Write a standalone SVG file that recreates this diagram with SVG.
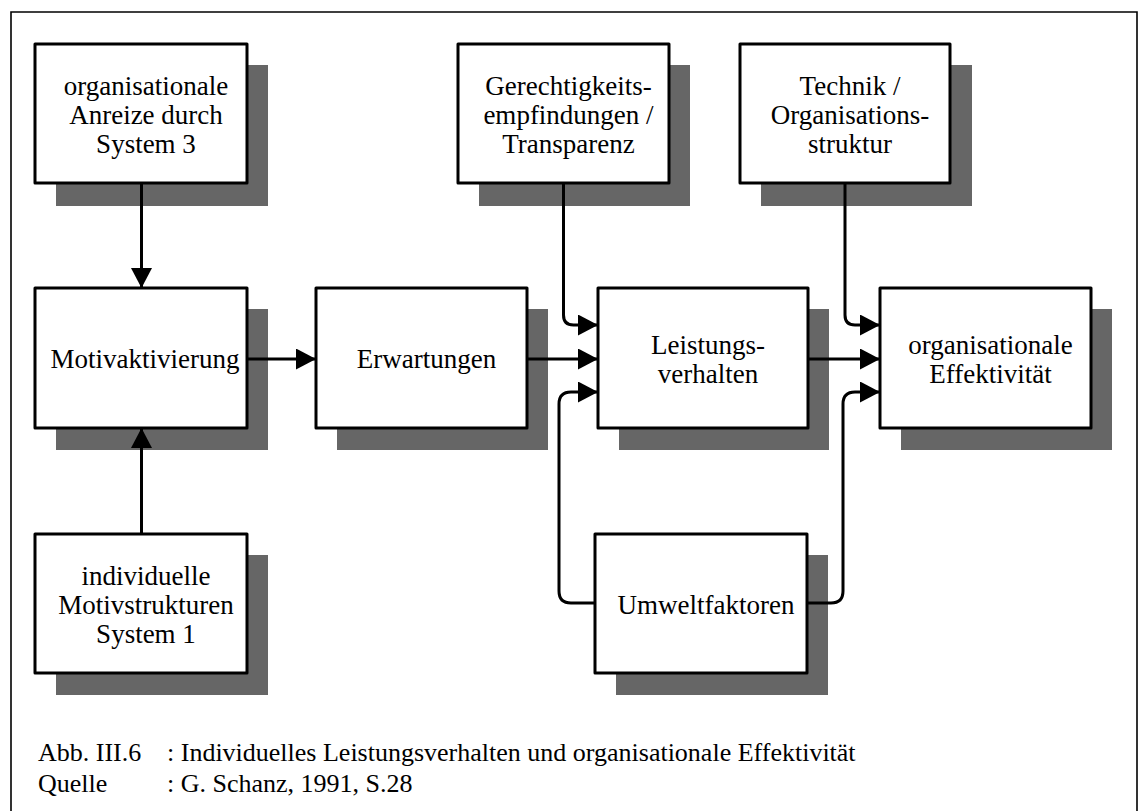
<svg xmlns="http://www.w3.org/2000/svg" width="1144" height="811" viewBox="0 0 1144 811">
  <style>
    .shadow { fill: #666666; }
    .box { fill: #ffffff; stroke: #000000; stroke-width: 3; stroke-linejoin: round; }
    .label { font-family: "Liberation Serif", "Times New Roman", serif; font-size: 27px; fill: #000000; text-anchor: middle; }
    .caption { font-family: "Liberation Serif", "Times New Roman", serif; font-size: 26px; fill: #000000; }
    .conn { fill: none; stroke: #000000; stroke-width: 3; stroke-linejoin: round; }
  </style>
  <defs>
    <marker id="arrow" markerUnits="userSpaceOnUse" markerWidth="21" markerHeight="22" refX="20" refY="10.5" orient="auto">
      <path d="M0,0 L20,10.5 L0,21 Z" fill="#000000"/>
    </marker>
  </defs>

  <rect width="1144" height="811" fill="#ffffff"/>
  <!-- outer frame, open at the bottom edge -->
  <path d="M11,811 L11,12 L1137,12 L1137,811" fill="none" stroke="#000000" stroke-width="1.6"/>

  <g id="node-anreize">
    <rect class="shadow" x="56" y="65" width="212" height="141"/>
    <rect class="box" x="35" y="44" width="212" height="139"/>
    <text class="label" x="146" y="94.5">organisationale</text>
    <text class="label" x="146" y="123.5">Anreize durch</text>
    <text class="label" x="146" y="152.5">System 3</text>
  </g>

  <g id="node-gerechtigkeit">
    <rect class="shadow" x="479" y="65" width="211" height="141"/>
    <rect class="box" x="458" y="44" width="211" height="139"/>
    <text class="label" x="568.5" y="94.5">Gerechtigkeits-</text>
    <text class="label" x="568.5" y="123.5">empfindungen /</text>
    <text class="label" x="568.5" y="152.5">Transparenz</text>
  </g>

  <g id="node-technik">
    <rect class="shadow" x="761" y="65" width="211" height="141"/>
    <rect class="box" x="740" y="44" width="210" height="139"/>
    <text class="label" x="850" y="94.5">Technik /</text>
    <text class="label" x="850" y="123.5">Organisations-</text>
    <text class="label" x="850" y="152.5">struktur</text>
  </g>

  <g id="node-motivaktivierung">
    <rect class="shadow" x="56" y="309" width="212" height="141"/>
    <rect class="box" x="35" y="288" width="212" height="140"/>
    <text class="label" x="145" y="368">Motivaktivierung</text>
  </g>

  <g id="node-erwartungen">
    <rect class="shadow" x="337" y="309" width="211" height="141"/>
    <rect class="box" x="316" y="288" width="211" height="140"/>
    <text class="label" x="426.5" y="368">Erwartungen</text>
  </g>

  <g id="node-leistungsverhalten">
    <rect class="shadow" x="619" y="309" width="210" height="141"/>
    <rect class="box" x="598" y="288" width="210" height="140"/>
    <text class="label" x="708" y="353.5">Leistungs-</text>
    <text class="label" x="708" y="382.5">verhalten</text>
  </g>

  <g id="node-effektivitaet">
    <rect class="shadow" x="901" y="309" width="211" height="141"/>
    <rect class="box" x="880" y="288" width="211" height="140"/>
    <text class="label" x="990.5" y="353.5">organisationale</text>
    <text class="label" x="990.5" y="382.5">Effektivität</text>
  </g>

  <g id="node-motivstrukturen">
    <rect class="shadow" x="56" y="555" width="212" height="140"/>
    <rect class="box" x="35" y="534" width="212" height="139"/>
    <text class="label" x="146" y="584.5">individuelle</text>
    <text class="label" x="146" y="613.5">Motivstrukturen</text>
    <text class="label" x="146" y="642.5">System 1</text>
  </g>

  <g id="node-umweltfaktoren">
    <rect class="shadow" x="616" y="555" width="212" height="140"/>
    <rect class="box" x="595" y="534" width="212" height="139"/>
    <text class="label" x="706" y="613.5">Umweltfaktoren</text>
  </g>

  <g id="connectors">
    <line class="conn" x1="141.5" y1="183" x2="141.5" y2="288" marker-end="url(#arrow)"/>
    <line class="conn" x1="141.5" y1="534" x2="141.5" y2="428" marker-end="url(#arrow)"/>
    <line class="conn" x1="247" y1="359" x2="316" y2="359" marker-end="url(#arrow)"/>
    <line class="conn" x1="527" y1="359" x2="598" y2="359" marker-end="url(#arrow)"/>
    <line class="conn" x1="808" y1="359" x2="880" y2="359" marker-end="url(#arrow)"/>
    <path class="conn" d="M563.5,183 L563.5,315 Q563.5,325 573.5,325 L598,325" marker-end="url(#arrow)"/>
    <path class="conn" d="M845,183 L845,315 Q845,325 855,325 L880,325" marker-end="url(#arrow)"/>
    <path class="conn" d="M595,603 L571,603 Q559,603 559,591 L559,404 Q559,392 571,392 L598,392" marker-end="url(#arrow)"/>
    <path class="conn" d="M807,603 L831,603 Q843,603 843,591 L843,404 Q843,392 855,392 L880,392" marker-end="url(#arrow)"/>
  </g>

  <g id="caption">
    <text class="caption" x="38" y="761">Abb. III.6</text>
    <text class="caption" x="167" y="761">: Individuelles Leistungsverhalten und organisationale Effektivität</text>
    <text class="caption" x="38" y="792">Quelle</text>
    <text class="caption" x="167" y="792">: G. Schanz, 1991, S.28</text>
  </g>
</svg>
